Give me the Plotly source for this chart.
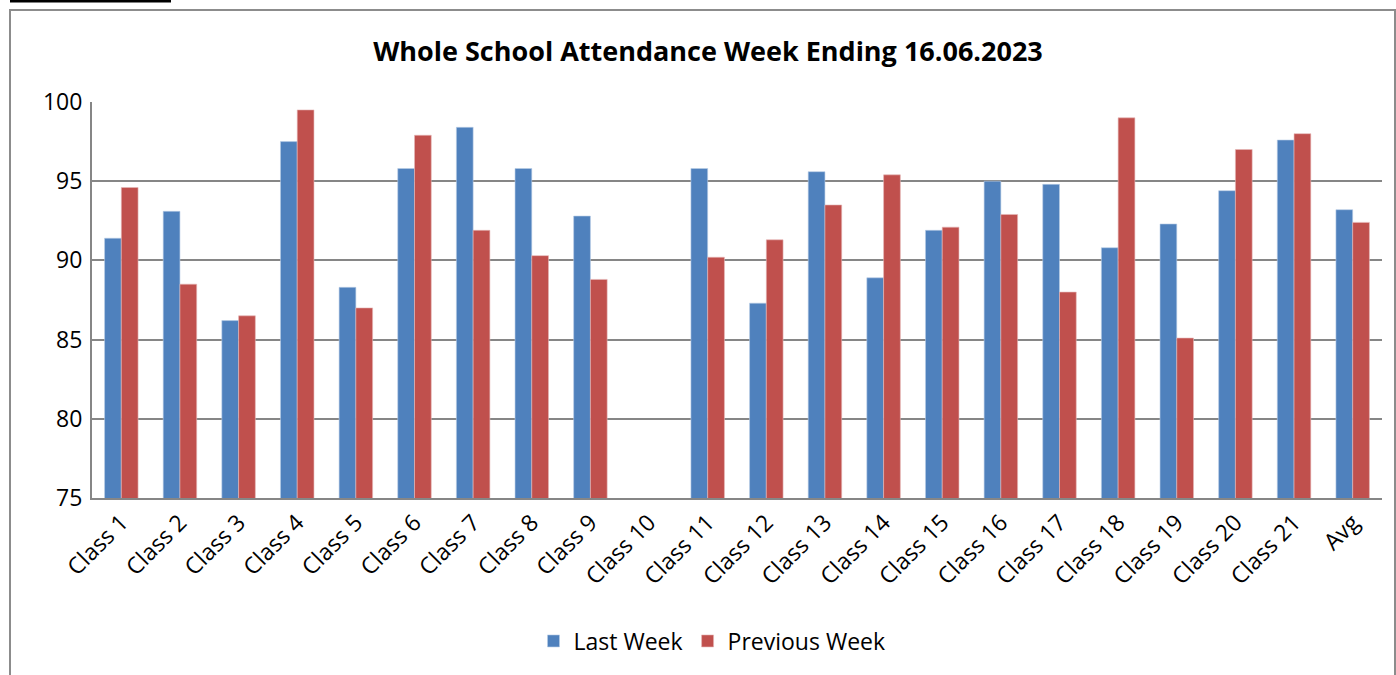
import plotly.graph_objects as go

categories = ["Class 1", "Class 2", "Class 3", "Class 4", "Class 5", "Class 6", "Class 7",
              "Class 8", "Class 9", "Class 10", "Class 11", "Class 12", "Class 13", "Class 14",
              "Class 15", "Class 16", "Class 17", "Class 18", "Class 19", "Class 20", "Class 21", "Avg"]
last_week = [91.4, 93.1, 86.2, 97.5, 88.3, 95.8, 98.4, 95.8, 92.8, None, 95.8, 87.3, 95.6, 88.9,
             91.9, 95.0, 94.8, 90.8, 92.3, 94.4, 97.6, 93.2]
previous_week = [94.6, 88.5, 86.5, 99.5, 87.0, 97.9, 91.9, 90.3, 88.8, None, 90.2, 91.3, 93.5, 95.4,
                 92.1, 92.9, 88.0, 99.0, 85.1, 97.0, 98.0, 92.4]
y_ticks = [75, 80, 85, 90, 95, 100]
title_text = "Whole School Attendance Week Ending 16.06.2023"

W, H = 1396, 675
L, R, T, B = 92, 1382, 102, 498
FONT = "Open Sans"

def px(x):
    return (x - L) / (R - L)

def py(y):
    return (B - y) / (B - T)

fig = go.Figure()
fig.add_trace(go.Bar(x=categories, y=last_week, name="Last Week",
                     marker=dict(color="#4F81BD", line=dict(color="#B9CDE5", width=0.6))))
fig.add_trace(go.Bar(x=categories, y=previous_week, name="Previous Week",
                     marker=dict(color="#C0504D", line=dict(color="#E6B9B8", width=0.6))))

fig.update_layout(
    width=W, height=H,
    margin=dict(l=L, r=W - R, t=T, b=H - B),
    paper_bgcolor="white", plot_bgcolor="white",
    barmode="group", bargap=0.4286, bargroupgap=0,
    font=dict(family=FONT, color="black"),
    title=dict(text="<b>" + title_text + "</b>", x=708 / W, xanchor="center", xref="container",
               y=1 - 52 / H, yanchor="middle", yref="container",
               font=dict(family=FONT, size=27, color="black")),
    showlegend=True,
    legend=dict(orientation="h", x=px(712), xanchor="center", y=py(641), yanchor="middle",
                font=dict(family=FONT, size=23, color="black"), itemwidth=30,
                bgcolor="rgba(0,0,0,0)"),
    xaxis=dict(tickangle=-45, tickfont=dict(family=FONT, size=23, color="black"),
               showline=True, linecolor="#868686", linewidth=2, showgrid=False,
               ticks="", mirror=False),
    yaxis=dict(range=[75, 100], tickvals=y_ticks, tickfont=dict(family=FONT, size=23, color="black"),
               showline=True, linecolor="#868686", linewidth=2,
               showgrid=True, gridcolor="#868686", gridwidth=2, ticks="", zeroline=False,
               ticklabelstandoff=3),
    shapes=[
        dict(type="rect", xref="paper", yref="paper", x0=px(10), x1=px(1395), y0=py(10), y1=py(676),
             line=dict(color="#8C8C8C", width=2), fillcolor="rgba(0,0,0,0)", layer="below"),
        dict(type="rect", xref="paper", yref="paper", x0=px(10), x1=px(171), y0=py(0), y1=py(2.5),
             line=dict(width=0), fillcolor="black"),
    ],
)

fig.write_html("out.html", config={"displayModeBar": False},
               post_script="document.body.style.margin='0';document.body.style.overflow='hidden';")
